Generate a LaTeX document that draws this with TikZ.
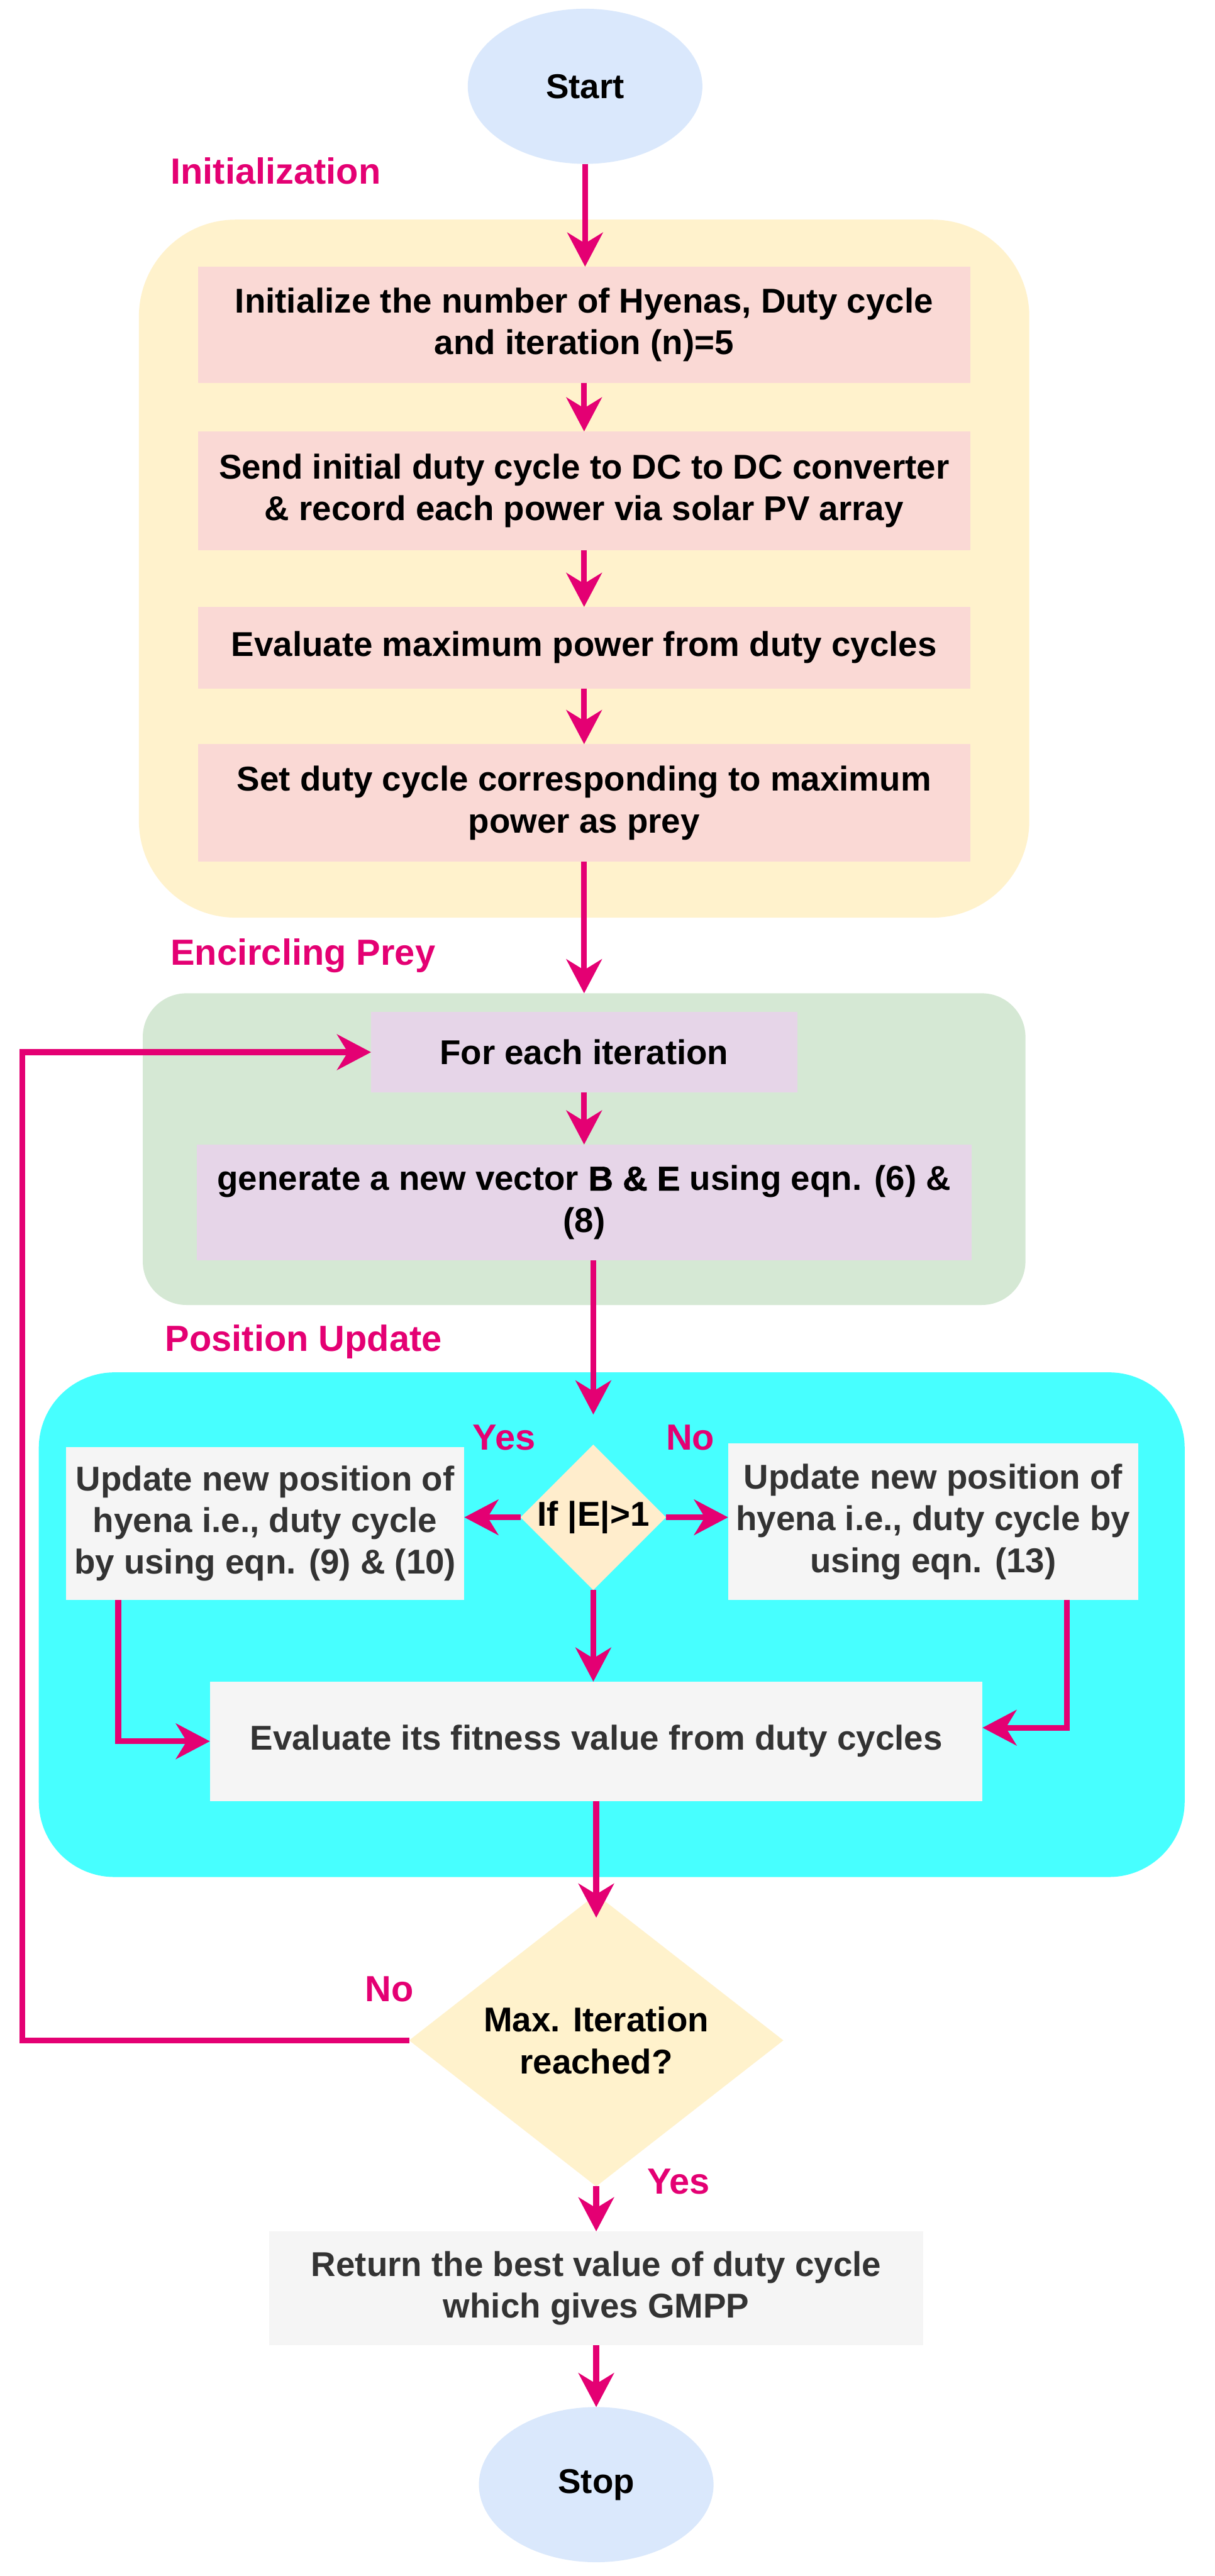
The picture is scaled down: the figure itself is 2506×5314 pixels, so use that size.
\documentclass[tikz,border=0pt]{standalone}
\usepackage{fontspec}
\setmainfont{Liberation Sans}
\newfontfamily\heavyfont[FakeBold=1.2]{Liberation Sans Bold}
\usetikzlibrary{shapes.geometric,arrows.meta,calc}
\definecolor{mag}{HTML}{E40073}
\definecolor{yelbg}{HTML}{FFF2CC}
\definecolor{pinkbox}{HTML}{FAD9D5}
\definecolor{greenbg}{HTML}{D5E8D4}
\definecolor{purbox}{HTML}{E6D5E8}
\definecolor{cyanbg}{HTML}{47FFFF}
\definecolor{graybox}{HTML}{F5F5F5}
\definecolor{graytext}{HTML}{333333}
\definecolor{termfill}{HTML}{DAE8FC}
\definecolor{diafillA}{HTML}{FFEDCC}
\definecolor{diafillB}{HTML}{FFF2CC}
\begin{document}
\begin{tikzpicture}[x=0.1pt,y=-0.1pt,
  every node/.style={font=\fontsize{7.1pt}{8.6pt}\selectfont\bfseries, inner sep=0pt, outer sep=0pt, align=center},
  region/.style={rectangle, draw=none},
  pbox/.style={rectangle, fill=pinkbox, minimum width=159.4pt},
  ubox/.style={rectangle, fill=purbox},
  gbox/.style={rectangle, fill=graybox, text=graytext},
  term/.style={ellipse, fill=termfill, minimum width=48.4pt, minimum height=32pt},
  decide/.style={diamond, aspect=1},
  lab/.style={text=mag, font=\fontsize{7.5pt}{9pt}\selectfont\bfseries},
  arr/.style={draw=mag, line width=1.2pt, line join=miter, -{Stealth[length=7pt,width=7.3pt,inset=2.2pt]}}
]
\useasboundingbox (0,0) rectangle (2506,5314);
\fill[white] (0,0) rectangle (2506,5314);

% regions
\node[region, fill=yelbg, minimum width=183.7pt, minimum height=144pt, rounded corners=20pt] (yel) at (1205,1173) {};
\node[region, fill=greenbg, minimum width=182.1pt, minimum height=64.3pt, rounded corners=9pt] (grn) at (1205,2370.5) {};
\node[region, fill=cyanbg, minimum width=236.4pt, minimum height=104.1pt, rounded corners=15.6pt] (cyn) at (1262,3351.5) {};

% labels
\node[lab, anchor=west] (initlab) at (352,352) {Initialization};
\node[lab, anchor=west] (enclab) at (352,1972) {Encircling Prey};
\node[lab, anchor=west] (poslab) at (341,2768) {Position Update};

% nodes
\node[term] (start) at (1207,178) {Start};
\node[pbox, minimum height=24pt] (b1) at (1205,670) {Initialize the number of Hyenas, Duty cycle\\and iteration (n)=5};
\node[pbox, minimum height=24.5pt] (b2) at (1205,1012.5) {Send initial duty cycle to DC to DC converter\\\& record each power via solar PV array};
\node[pbox, minimum height=16.8pt] (b3) at (1205,1336) {Evaluate maximum power from duty cycles};
\node[pbox, minimum height=24.3pt] (b4) at (1205,1656.5) {Set duty cycle corresponding to maximum\\power as prey};

\node[ubox, minimum width=87.9pt, minimum height=16.5pt] (fe) at (1205,2170.5) {For each iteration};
\node[ubox, minimum width=159.8pt, minimum height=23.9pt] (gen) at (1205,2480.5) {generate a new vector {\heavyfont B \& E} using eqn. (6) \&\\(8)};

\node[decide, fill=diafillA, minimum width=30pt, minimum height=30pt] (ifd) at (1224,3130) {If |E|>1};
\node[lab] (yes1) at (1040,2966) {Yes};
\node[lab] (no1) at (1424,2966) {No};
\node[gbox, minimum width=82.2pt, minimum height=31.6pt] (L) at (547,3143) {Update new position of\\hyena i.e., duty cycle\\by using eqn. (9) \& (10)};
\node[gbox, minimum width=84.6pt, minimum height=32.3pt] (R) at (1925,3139.5) {Update new position of\\hyena i.e., duty cycle by\\using eqn. (13)};
\node[gbox, minimum width=159.4pt, minimum height=24.6pt] (F) at (1230,3592) {Evaluate its fitness value from duty cycles};

\node[decide, fill=diafillB, minimum width=77.2pt, minimum height=54.6pt] (maxd) at (1230,4209) {Max. Iteration\\reached?};
\node[lab] (no2) at (803,4103) {No};
\node[lab] (yes2) at (1400,4500) {Yes};
\node[gbox, minimum width=135pt, minimum height=23.5pt] (ret) at (1230,4720.5) {Return the best value of duty cycle\\which gives GMPP};
\node[term] (stop) at (1230,5125.5) {Stop};

\coordinate (fb) at (46,0);

% connectors
\draw[arr] (start.south) -- (start.south |- b1.north);
\draw[arr] (b1.south) -- (b2.north);
\draw[arr] (b2.south) -- (b3.north);
\draw[arr] (b3.south) -- (b4.north);
\draw[arr] (b4.south) -- (b4.south |- grn.north);
\draw[arr] (fe.south) -- (gen.north);
\draw[arr, shorten >=6.2pt] (gen.south -| ifd.north) -- (ifd.north);
\draw[arr] (ifd.west) -- (ifd.west -| L.east);
\draw[arr] (ifd.east) -- (ifd.east -| R.west);
\draw[arr] (ifd.south) -- (ifd.south |- F.north);
\draw[arr] ([xshift=10.8pt]L.south west) |- (F.west);
\draw[arr] ([xshift=-14.7pt]R.south east) |- ([yshift=2.8pt]F.east);
\draw[arr, shorten >=-4.8pt] (F.south) -- (maxd.north);
\draw[arr] (maxd.south) -- (ret.north);
\draw[arr] (ret.south) -- (stop.north);
\draw[arr] (maxd.west) -- (maxd.west -| fb) |- (fe.west);
\end{tikzpicture}
\end{document}
